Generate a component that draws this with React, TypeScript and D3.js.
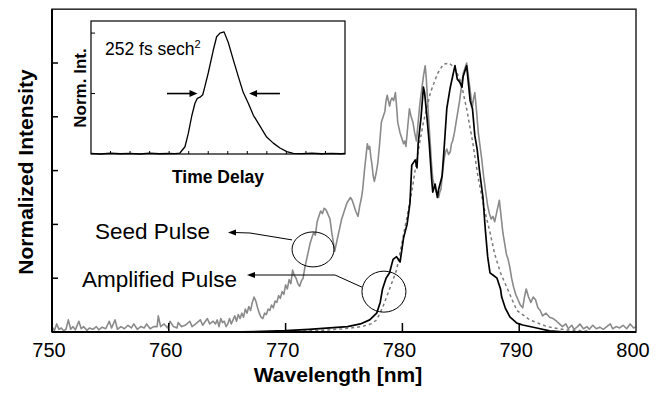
import React, { useEffect } from "react";
import * as d3 from "d3";

// ---------- DATA ----------
const xTicks = [750, 760, 770, 780, 790, 800];
const yTicks = [0.2, 0.4, 0.6, 0.8, 1.0];
const insetXTicks = [1, 2, 3, 4, 5, 6, 7, 8, 9, 10, 11, 12];
const insetYTicks = [0.5, 1.0];

// Seed pulse spectrum (gray solid) [wavelength nm, normalized intensity]
const seedPulse: [number, number][] = [
  [750.0, 0.02], [750.2, 0.005], [750.4, 0.03], [750.6, 0.01], [750.8, 0.015], [751.0, 0.005],
  [751.2, 0.01], [751.4, 0.045], [751.6, 0.01], [751.8, 0.02], [752.0, 0.008], [752.3, 0.04],
  [752.5, 0.012], [752.7, 0.02], [753.0, 0.006], [753.2, 0.015], [753.5, 0.01], [753.8, 0.02],
  [754.0, 0.008], [754.3, 0.018], [754.6, 0.012], [754.9, 0.04], [755.1, 0.015], [755.4, 0.045],
  [755.6, 0.01], [755.9, 0.02], [756.2, 0.012], [756.5, 0.025], [756.8, 0.015], [757.0, 0.03],
  [757.3, 0.01], [757.6, 0.02], [757.9, 0.015], [758.1, 0.03], [758.4, 0.012], [758.7, 0.02],
  [759.0, 0.02], [759.1, 0.06], [759.3, 0.02], [759.6, 0.03], [759.9, 0.015], [760.1, 0.04],
  [760.4, 0.02], [760.7, 0.015], [760.8, 0.035], [761.1, 0.02], [761.4, 0.025], [761.8, 0.04],
  [762.0, 0.02], [762.3, 0.03], [762.7, 0.045], [762.9, 0.025], [763.3, 0.05], [763.5, 0.03],
  [763.8, 0.04], [764.0, 0.03], [764.15, 0.045], [764.3, 0.02], [764.45, 0.05], [764.6, 0.035],
  [764.75, 0.04], [764.9, 0.02], [765.05, 0.03], [765.2, 0.05], [765.35, 0.03], [765.5, 0.045],
  [765.65, 0.06], [765.8, 0.04], [765.95, 0.065], [766.1, 0.05], [766.25, 0.07], [766.4, 0.055],
  [766.55, 0.085], [766.7, 0.07], [766.85, 0.095], [767.0, 0.08], [767.15, 0.11], [767.3, 0.13],
  [767.45, 0.115], [767.6, 0.09], [767.75, 0.07], [767.9, 0.055], [768.05, 0.05], [768.2, 0.07],
  [768.35, 0.065], [768.5, 0.085], [768.65, 0.08], [768.8, 0.1], [768.95, 0.09], [769.1, 0.115],
  [769.25, 0.11], [769.4, 0.135], [769.55, 0.125], [769.7, 0.15], [769.85, 0.14], [770.0, 0.175],
  [770.15, 0.16], [770.3, 0.195], [770.45, 0.18], [770.6, 0.23], [770.75, 0.21], [770.9, 0.2],
  [771.05, 0.18], [771.2, 0.17], [771.35, 0.19], [771.5, 0.2], [771.65, 0.24], [771.8, 0.27],
  [771.95, 0.3], [772.1, 0.33], [772.25, 0.35], [772.4, 0.37], [772.55, 0.36], [772.7, 0.41],
  [772.85, 0.43], [773.0, 0.45], [773.15, 0.44], [773.3, 0.46], [773.45, 0.455], [773.6, 0.44],
  [773.8, 0.42], [773.95, 0.37], [774.1, 0.33], [774.2, 0.3], [774.35, 0.33], [774.5, 0.36],
  [774.65, 0.39], [774.8, 0.42], [774.95, 0.44], [775.1, 0.46], [775.25, 0.48], [775.4, 0.49],
  [775.55, 0.5], [775.7, 0.49], [775.85, 0.47], [776.0, 0.45], [776.2, 0.43], [776.35, 0.47],
  [776.5, 0.5], [776.6, 0.53], [776.75, 0.6], [776.9, 0.66], [777.0, 0.7], [777.1, 0.68],
  [777.2, 0.69], [777.3, 0.65], [777.4, 0.62], [777.5, 0.58], [777.6, 0.56], [777.75, 0.59],
  [777.9, 0.63], [778.05, 0.7], [778.2, 0.78], [778.35, 0.8], [778.5, 0.82], [778.6, 0.86],
  [778.7, 0.88], [778.8, 0.86], [778.9, 0.84], [779.0, 0.86], [779.1, 0.87], [779.25, 0.86],
  [779.4, 0.89], [779.5, 0.84], [779.6, 0.78], [779.7, 0.76], [779.8, 0.74], [779.95, 0.72],
  [780.1, 0.7], [780.2, 0.71], [780.3, 0.69], [780.45, 0.76], [780.6, 0.83], [780.75, 0.8],
  [780.9, 0.78], [781.05, 0.74], [781.2, 0.71], [781.35, 0.78], [781.5, 0.85], [781.65, 0.9],
  [781.8, 0.95], [781.95, 0.99], [782.05, 0.94], [782.1, 0.9], [782.25, 0.79], [782.4, 0.69],
  [782.5, 0.62], [782.6, 0.57], [782.75, 0.54], [782.9, 0.52], [783.0, 0.51], [783.1, 0.5],
  [783.2, 0.52], [783.3, 0.53], [783.45, 0.6], [783.6, 0.65], [783.7, 0.67], [783.8, 0.68],
  [783.95, 0.66], [784.1, 0.67], [784.2, 0.7], [784.3, 0.71], [784.45, 0.74], [784.6, 0.78],
  [784.75, 0.82], [784.9, 0.86], [785.05, 0.91], [785.2, 0.96], [785.35, 0.98], [785.5, 1.0],
  [785.65, 0.95], [785.8, 0.9], [785.9, 0.86], [786.0, 0.84], [786.1, 0.87], [786.2, 0.89],
  [786.35, 0.82], [786.5, 0.74], [786.65, 0.69], [786.8, 0.64], [786.95, 0.58], [787.1, 0.53],
  [787.2, 0.5], [787.3, 0.47], [787.45, 0.44], [787.6, 0.42], [787.75, 0.43], [787.9, 0.41],
  [788.0, 0.43], [788.1, 0.45], [788.2, 0.47], [788.3, 0.49], [788.45, 0.43], [788.6, 0.37],
  [788.75, 0.33], [788.9, 0.29], [789.05, 0.27], [789.2, 0.24], [789.35, 0.2], [789.5, 0.17],
  [789.7, 0.14], [789.9, 0.12], [790.1, 0.1], [790.3, 0.09], [790.45, 0.13], [790.6, 0.16],
  [790.8, 0.13], [791.0, 0.11], [791.2, 0.13], [791.4, 0.12], [791.6, 0.09], [791.8, 0.08],
  [792.0, 0.06], [792.3, 0.07], [792.6, 0.055], [792.9, 0.05], [793.2, 0.04], [793.45, 0.03],
  [793.7, 0.02], [794.0, 0.03], [794.2, 0.012], [794.5, 0.025], [794.7, 0.01], [795.0, 0.02],
  [795.2, 0.03], [795.5, 0.012], [795.8, 0.02], [796.0, 0.01], [796.3, 0.025], [796.6, 0.012],
  [796.9, 0.018], [797.2, 0.01], [797.5, 0.02], [797.8, 0.03], [798.0, 0.012], [798.3, 0.02],
  [798.6, 0.015], [798.9, 0.025], [799.2, 0.012], [799.5, 0.03], [799.8, 0.015], [800.0, 0.02],
];

// Amplified pulse spectrum (black solid)
const amplifiedPulse: [number, number][] = [
  [765.0, 0.0], [768.0, 0.002], [770.0, 0.005], [772.0, 0.01], [773.8, 0.015], [775.3, 0.02],
  [776.4, 0.03], [777.2, 0.045], [777.8, 0.07], [778.1, 0.11], [778.3, 0.16], [778.6, 0.2],
  [778.9, 0.22], [779.2, 0.27], [779.5, 0.28], [779.8, 0.26], [780.1, 0.35], [780.4, 0.4],
  [780.65, 0.48], [780.8, 0.62], [781.1, 0.64], [781.25, 0.61], [781.35, 0.7], [781.6, 0.8],
  [781.8, 0.91], [781.9, 0.89], [782.1, 0.8], [782.3, 0.7], [782.5, 0.57], [782.6, 0.52],
  [782.8, 0.55], [783.0, 0.5], [783.1, 0.53], [783.4, 0.58], [783.6, 0.7], [783.8, 0.83],
  [784.1, 0.91], [784.3, 0.95], [784.5, 0.99], [784.7, 0.94], [784.9, 0.93], [785.1, 0.91],
  [785.2, 0.95], [785.5, 0.99], [785.8, 0.86], [786.0, 0.83], [786.2, 0.73], [786.4, 0.68],
  [786.5, 0.64], [786.6, 0.6], [786.9, 0.5], [787.1, 0.38], [787.3, 0.28], [787.5, 0.22],
  [787.8, 0.21], [788.1, 0.2], [788.4, 0.16], [788.5, 0.13], [788.8, 0.09], [789.2, 0.056],
  [789.8, 0.033], [790.3, 0.026], [791.5, 0.015], [792.6, 0.004], [794.0, 0.0], [800.0, 0.0],
];

// Calculated/fit spectrum (gray dashed)
const fitPulse: [number, number][] = [
  [771.0, 0.003], [773.0, 0.006], [775.0, 0.012], [776.5, 0.02], [777.3, 0.03], [777.8, 0.045],
  [778.3, 0.09], [778.9, 0.16], [779.5, 0.23], [780.0, 0.34], [780.4, 0.43], [780.8, 0.52],
  [781.3, 0.66], [781.8, 0.78], [782.4, 0.89], [783.0, 0.96], [783.5, 0.995], [784.0, 1.0],
  [784.5, 0.98], [785.0, 0.93], [785.5, 0.83], [786.0, 0.71], [786.5, 0.57], [787.0, 0.46],
  [787.5, 0.37], [787.9, 0.29], [788.4, 0.22], [789.0, 0.16], [789.8, 0.08], [790.9, 0.045],
  [792.4, 0.02], [794.0, 0.008], [796.0, 0.003],
];

// Inset autocorrelation trace [time delay (arb.), norm. int.]
const autocorrelation: [number, number][] = [
  [0, 0.005], [0.5, 0.0], [1.0, 0.008], [1.5, 0.002], [2.0, 0.006], [2.5, 0.0], [3.0, 0.007],
  [3.5, 0.002], [4.0, 0.004], [4.3, 0.003], [4.55, 0.008], [4.81, 0.06], [4.98, 0.17],
  [5.15, 0.31], [5.32, 0.42], [5.44, 0.46], [5.58, 0.47], [5.72, 0.49], [5.83, 0.56],
  [6.0, 0.67], [6.26, 0.86], [6.43, 0.97], [6.6, 1.0], [6.81, 1.01], [7.03, 0.92], [7.28, 0.78],
  [7.54, 0.64], [7.79, 0.51], [8.05, 0.42], [8.31, 0.32], [8.65, 0.23], [8.99, 0.14],
  [9.33, 0.09], [9.67, 0.05], [10.02, 0.02], [10.35, 0.005], [10.8, 0.003], [11.3, 0.008],
  [11.8, 0.002], [12.3, 0.006], [12.8, 0.002], [13, 0.005],
];

// FWHM arrows in inset (time delay from, to) at half maximum
const fwhmArrows: [number, number][] = [
  [3.89, 5.45],
  [9.67, 8.09],
];

// Annotation ellipses (data coords of centers)
const seedMarker: [number, number] = [772.35, 0.307];
const ampMarker: [number, number] = [778.42, 0.15];

// ---------- LAYOUT ----------
const W = 660;
const H = 393;
const M = { left: 52, right: 636, top: 9.2, bottom: 332 };
const INSET = { left: 91, right: 345, top: 21, bottom: 154 };
const FONT = "'Liberation Sans', Arial, Helvetica, sans-serif";

export default function App() {
  useEffect(() => {
    document.body.style.margin = "0";
  }, []);

  const x = d3.scaleLinear().domain([750, 800]).range([M.left, M.right]);
  const y = d3.scaleLinear().domain([0, 1.2]).range([M.bottom, M.top]);
  const ix = d3.scaleLinear().domain([0, 13]).range([INSET.left, INSET.right]);
  const iy = d3.scaleLinear().domain([0, 1.1]).range([INSET.bottom, INSET.top]);

  const line = d3
    .line<[number, number]>()
    .x((d) => x(d[0]))
    .y((d) => y(d[1]));
  const iline = d3
    .line<[number, number]>()
    .x((d) => ix(d[0]))
    .y((d) => iy(d[1]));

  const arrowHead = (tx: number, ty: number, dir: number, len = 8, hw = 3) =>
    `M${tx},${ty} L${tx + dir * len},${ty - hw} L${tx + dir * len},${ty + hw} Z`;

  const sx = x(seedMarker[0]);
  const sy = y(seedMarker[1]);
  const ax = x(ampMarker[0]);
  const ay = y(ampMarker[1]);

  return (
    <svg
      width={W}
      height={H}
      viewBox={`0 0 ${W} ${H}`}
      style={{ position: "absolute", left: 0, top: 0, background: "#fff", fontFamily: FONT }}
    >
      <defs>
        <clipPath id="plotClip">
          <rect x={M.left} y={M.top} width={M.right - M.left} height={M.bottom - M.top} />
        </clipPath>
      </defs>
      <rect x={0} y={0} width={W} height={H} fill="#fff" />

      {/* curves */}
      <g clipPath="url(#plotClip)">
        <path d={line(seedPulse) || ""} fill="none" stroke="#8a8a8a" strokeWidth={1.6} strokeLinejoin="round" />
        <path d={line(fitPulse) || ""} fill="none" stroke="#7a7a7a" strokeWidth={1.5} strokeDasharray="3,3" />
        <path d={line(amplifiedPulse) || ""} fill="none" stroke="#000" strokeWidth={1.7} strokeLinejoin="round" />
      </g>

      {/* frame */}
      <rect
        x={M.left}
        y={M.top}
        width={M.right - M.left}
        height={M.bottom - M.top}
        fill="none"
        stroke="#333"
        strokeWidth={1.6}
      />
      <line x1={M.left} x2={M.left} y1={M.top} y2={M.bottom} stroke="#000" strokeWidth={2} />
      <line x1={M.left} x2={M.right} y1={M.bottom} y2={M.bottom} stroke="#000" strokeWidth={2} />

      {/* x ticks */}
      {xTicks.map((t) => (
        <g key={`xt${t}`}>
          {t > 750 && t < 800 && (
            <line x1={x(t)} x2={x(t)} y1={M.bottom} y2={M.bottom - 9} stroke="#000" strokeWidth={1.5} />
          )}
          <text x={x(t) - 3} y={357} fontSize={20} textAnchor="middle" fill="#000">
            {t}
          </text>
        </g>
      ))}
      {/* y ticks */}
      {yTicks.map((t) => (
        <line key={`yt${t}`} x1={M.left} x2={M.left + 6} y1={y(t)} y2={y(t)} stroke="#000" strokeWidth={1.5} />
      ))}

      {/* axis titles */}
      <text x={338} y={382} fontSize={21} fontWeight="bold" textAnchor="middle" fill="#000">
        Wavelength [nm]
      </text>
      <text
        transform={`translate(33,172) rotate(-90)`}
        fontSize={21}
        fontWeight="bold"
        textAnchor="middle"
        fill="#000"
      >
        Normalized Intensity
      </text>

      {/* annotations */}
      <text x={95} y={239} fontSize={22.5} fill="#000">
        Seed Pulse
      </text>
      <text x={82} y={287} fontSize={22.5} fill="#000">
        Amplified Pulse
      </text>
      <ellipse cx={sx} cy={sy} rx={21} ry={17.5} fill="none" stroke="#000" strokeWidth={1} />
      <ellipse cx={ax} cy={ay} rx={22} ry={20.5} fill="none" stroke="#000" strokeWidth={1} />
      <polyline
        points={`234,232.5 250,233 ${sx - 21},${sy - 9.5}`}
        fill="none"
        stroke="#000"
        strokeWidth={1}
      />
      <path d={arrowHead(228, 232.5, 1)} fill="#000" />
      <polyline
        points={`253,275 335,275 ${ax - 22},${ay - 4.5}`}
        fill="none"
        stroke="#000"
        strokeWidth={1}
      />
      <path d={arrowHead(247, 275, 1)} fill="#000" />

      {/* inset */}
      <rect
        x={INSET.left}
        y={INSET.top}
        width={INSET.right - INSET.left}
        height={INSET.bottom - INSET.top}
        fill="#fff"
        stroke="#000"
        strokeWidth={1.2}
      />
      {insetXTicks.map((t) => (
        <line key={`ixt${t}`} x1={ix(t)} x2={ix(t)} y1={INSET.bottom} y2={INSET.bottom - 3} stroke="#000" strokeWidth={1} />
      ))}
      {insetYTicks.map((t) => (
        <line key={`iyt${t}`} x1={INSET.left} x2={INSET.left + 4} y1={iy(t)} y2={iy(t)} stroke="#000" strokeWidth={1} />
      ))}
      <path d={iline(autocorrelation) || ""} fill="none" stroke="#000" strokeWidth={1.3} strokeLinejoin="round" />
      {fwhmArrows.map(([from, to], i) => {
        const dir = to > from ? -1 : 1;
        return (
          <g key={`fa${i}`}>
            <line x1={ix(from)} x2={ix(to) + dir * 6} y1={iy(0.5)} y2={iy(0.5)} stroke="#000" strokeWidth={1.6} />
            <path d={arrowHead(ix(to), iy(0.5), dir, 8, 3.5)} fill="#000" />
          </g>
        );
      })}
      <text x={105} y={55} fontSize={17.5} fill="#000">
        252 fs sech
        <tspan dy={-7} fontSize={11}>
          2
        </tspan>
      </text>
      <text
        transform={`translate(86,88) rotate(-90)`}
        fontSize={17}
        fontWeight="bold"
        textAnchor="middle"
        fill="#000"
      >
        Norm. Int.
      </text>
      <text x={218} y={183} fontSize={17.5} fontWeight="bold" textAnchor="middle" fill="#000">
        Time Delay
      </text>
    </svg>
  );
}
